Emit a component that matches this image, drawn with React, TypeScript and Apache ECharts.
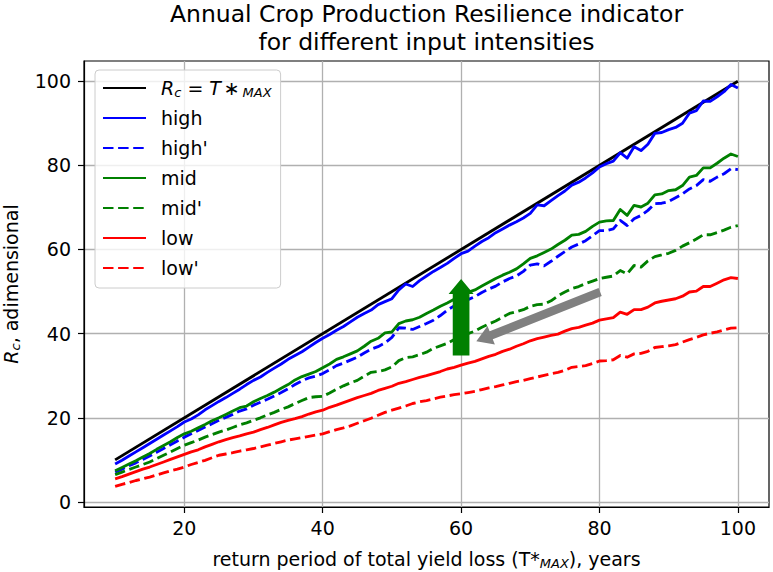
import React, { useEffect, useRef } from "react";
import * as echarts from "echarts";

const FONT = "DejaVu Sans";

const years = [
  10, 11, 12, 13, 14, 15, 16, 17, 18, 19,
  20, 21, 22, 23, 24, 25, 26, 27, 28, 29,
  30, 31, 32, 33, 34, 35, 36, 37, 38, 39,
  40, 41, 42, 43, 44, 45, 46, 47, 48, 49,
  50, 51, 52, 53, 54, 55, 56, 57, 58, 59,
  60, 61, 62, 63, 64, 65, 66, 67, 68, 69,
  70, 71, 72, 73, 74, 75, 76, 77, 78, 79,
  80, 81, 82, 83, 84, 85, 86, 87, 88, 89,
  90, 91, 92, 93, 94, 95, 96, 97, 98, 99, 100,
];

const refYears = [10, 100];
const refValues = [10, 100];

const high = [
  9.0, 9.9, 10.9, 11.9, 12.9, 13.9, 14.9, 15.9, 16.9, 17.9,
  19.0, 19.7, 20.7, 21.9, 22.9, 23.9, 24.8, 25.8, 26.8, 27.9,
  28.9, 29.7, 30.8, 31.8, 32.8, 33.9, 34.8, 35.7, 36.8, 37.9,
  38.9, 39.8, 40.8, 41.7, 42.8, 43.9, 44.8, 45.6, 46.9, 47.6,
  48.3, 50.4, 51.8, 51.2, 52.6, 53.7, 54.8, 55.7, 56.7, 57.9,
  59.0, 59.6, 60.8, 61.9, 62.8, 64.0, 64.9, 65.8, 66.6, 67.5,
  68.6, 70.6, 70.4, 71.6, 72.8, 73.9, 75.3, 76.0, 77.0, 78.2,
  79.6, 80.4, 81.0, 83.0, 81.7, 84.4, 83.5, 85.0, 87.6, 87.8,
  88.5, 89.0, 90.0, 92.4, 93.0, 95.3, 95.2, 96.3, 97.5, 99.2, 98.4,
];

const highP = [
  7.1, 7.8, 8.6, 9.3, 10.1, 10.9, 11.8, 12.7, 13.6, 14.5,
  15.4, 16.2, 17.0, 17.8, 18.6, 19.4, 20.1, 20.8, 21.6, 22.1,
  23.0, 23.7, 24.4, 25.2, 26.0, 26.9, 27.9, 28.8, 29.5, 29.9,
  30.5, 31.4, 32.4, 33.0, 33.7, 34.4, 35.4, 36.3, 36.9, 37.8,
  39.1, 41.4, 41.3, 41.0, 41.7, 42.4, 43.2, 44.3, 45.6, 46.6,
  47.5, 48.1, 48.8, 49.8, 50.6, 51.3, 52.3, 53.1, 53.7, 54.8,
  56.3, 56.6, 56.1, 57.2, 58.4, 59.5, 60.6, 61.3, 62.1, 63.3,
  64.5, 64.5, 64.9, 66.9, 65.7, 67.3, 68.1, 69.3, 70.9, 71.0,
  71.4, 72.3, 73.2, 74.4, 75.2, 76.6, 76.2, 77.2, 78.0, 79.2, 79.0,
];

const mid = [
  7.4, 8.2, 9.0, 9.8, 10.7, 11.5, 12.5, 13.4, 14.3, 15.3,
  16.2, 16.8, 17.6, 18.4, 19.3, 20.0, 20.8, 21.6, 22.4, 22.8,
  23.8, 24.6, 25.3, 26.1, 27.0, 27.9, 29.0, 29.8, 30.4, 31.0,
  31.9, 32.8, 33.9, 34.5, 35.2, 35.9, 37.0, 38.2, 38.9, 40.2,
  40.4, 42.4, 43.0, 43.3, 43.9, 44.8, 45.6, 46.5, 47.3, 48.2,
  49.1, 49.8, 50.4, 51.3, 52.2, 53.1, 53.9, 54.6, 55.4, 56.6,
  57.9, 58.5, 59.3, 60.1, 61.2, 62.2, 63.4, 63.6, 64.3, 65.5,
  66.5, 66.8, 66.9, 69.5, 68.1, 70.5, 70.1, 71.0, 73.0, 73.2,
  74.0, 74.2, 75.2, 77.2, 77.6, 79.4, 79.4, 80.5, 81.7, 82.7, 82.1,
];

const midP = [
  6.5, 7.1, 7.7, 8.3, 8.9, 9.5, 10.3, 11.1, 11.9, 12.7,
  13.5, 14.1, 14.7, 15.4, 16.0, 16.6, 17.1, 17.7, 18.3, 18.8,
  19.4, 20.0, 20.7, 21.3, 22.0, 22.6, 23.4, 24.1, 24.8, 25.0,
  25.1, 25.9, 26.8, 27.6, 28.3, 28.9, 29.9, 30.8, 31.0, 31.4,
  32.1, 33.6, 34.3, 34.5, 35.0, 35.6, 36.5, 37.1, 37.7, 38.6,
  39.6, 40.0, 40.6, 41.5, 42.3, 43.0, 43.9, 44.8, 45.2, 45.7,
  46.5, 46.9, 47.0, 47.8, 49.0, 49.9, 50.7, 51.2, 51.9, 52.5,
  53.1, 53.4, 53.7, 55.0, 54.2, 56.2, 55.8, 57.3, 58.3, 58.7,
  59.1, 59.8, 60.8, 61.6, 62.5, 63.5, 63.5, 64.0, 64.6, 65.3, 65.7,
];

const low = [
  5.5, 6.0, 6.6, 7.2, 7.8, 8.3, 8.9, 9.5, 10.1, 10.7,
  11.3, 11.9, 12.4, 13.1, 13.7, 14.3, 14.8, 15.3, 15.7, 16.2,
  16.6, 17.2, 17.7, 18.3, 18.9, 19.4, 19.8, 20.3, 20.9, 21.4,
  21.8, 22.5, 23.0, 23.6, 24.2, 24.8, 25.3, 25.8, 26.5, 27.0,
  27.5, 28.2, 28.6, 29.1, 29.6, 30.0, 30.5, 31.0, 31.6, 32.0,
  32.5, 33.0, 33.4, 34.0, 34.6, 35.1, 35.8, 36.3, 37.0, 37.6,
  38.3, 38.8, 39.2, 39.6, 39.9, 40.6, 41.2, 41.5, 42.0, 42.5,
  43.2, 43.5, 43.8, 45.1, 44.6, 45.7, 45.7, 46.3, 47.3, 47.7,
  48.0, 48.3, 48.9, 49.9, 50.1, 51.2, 51.2, 52.0, 52.8, 53.3, 53.1,
];

const lowP = [
  3.7, 4.2, 4.6, 5.1, 5.5, 5.9, 6.4, 6.9, 7.4, 7.8,
  8.3, 8.9, 9.4, 9.9, 10.5, 11.1, 11.4, 11.7, 12.1, 12.4,
  12.7, 13.1, 13.5, 13.9, 14.3, 14.7, 15.0, 15.3, 15.6, 15.9,
  16.2, 16.7, 17.2, 17.6, 18.1, 18.7, 19.3, 19.9, 20.6, 21.3,
  21.8, 22.3, 22.8, 23.4, 23.8, 24.1, 24.5, 24.9, 25.2, 25.5,
  25.7, 26.0, 26.3, 26.7, 27.1, 27.4, 27.8, 28.2, 28.6, 28.9,
  29.3, 29.7, 30.1, 30.5, 30.8, 31.3, 32.0, 32.2, 32.4, 32.9,
  33.5, 33.6, 33.8, 34.8, 34.4, 35.2, 35.3, 35.8, 36.7, 36.9,
  37.1, 37.4, 38.0, 38.6, 39.1, 39.7, 40.1, 40.4, 40.9, 41.3, 41.4,
];

const xTicks = [20, 40, 60, 80, 100];
const yTicks = [0, 20, 40, 60, 80, 100];

// arrows: [xStart, yStart, xEnd, yEnd] in data units
const greenArrow = [60, 34.8, 60, 53.0];
const grayArrow = [80.1, 49.9, 62.2, 38.2];

const seriesNames = ["Rc", "high", "high'", "mid", "mid'", "low", "low'"];

export default function App() {
  const ref = useRef<HTMLDivElement>(null);

  useEffect(() => {
    const chart = echarts.init(ref.current!, null, { renderer: "svg" });
    const pairs = (xs: number[], ys: number[]) => xs.map((x, i) => [x, ys[i]]);

    const LW = 2.85;
    const DASH = [10.5, 4.6];
    const mk = (name: string, xs: number[], ys: number[], color: string, dashed: boolean) => ({
      type: "line",
      name,
      data: pairs(xs, ys),
      symbol: "none",
      showSymbol: false,
      clip: false,
      lineStyle: {
        color,
        width: LW,
        type: dashed ? DASH : "solid",
        join: "round",
        cap: "butt",
      },
      itemStyle: { color },
      emphasis: { disabled: true },
    });

    const arrowShapes = [
      { shaft: 16.7, headW: 25, headL: 15, color: "#008000" },
      { shaft: 8.5, headW: 20, headL: 16, color: "#808080" },
    ];

    const rich = {
      i: { fontFamily: FONT, fontStyle: "italic", fontSize: 19, lineHeight: 22, color: "#000" },
      n: { fontFamily: FONT, fontSize: 19, lineHeight: 22, color: "#000" },
      sp: { fontFamily: FONT, fontSize: 9, lineHeight: 22, color: "#000" },
      sub: { fontFamily: FONT, fontStyle: "italic", fontSize: 13, lineHeight: 10, verticalAlign: "bottom", color: "#000" },
    };

    const option: any = {
      animation: false,
      backgroundColor: "#ffffff",
      title: {
        text: "Annual Crop Production Resilience indicator\nfor different input intensities",
        left: 426.5,
        top: 0,
        padding: 0,
        textAlign: "center",
        textStyle: {
          fontFamily: FONT,
          fontSize: 23.5,
          fontWeight: "normal",
          lineHeight: 28,
          color: "#000",
        },
      },
      grid: {
        left: 84,
        top: 61,
        width: 685,
        height: 446,
        show: true,
        borderColor: "#000",
        borderWidth: 1.2,
        backgroundColor: "transparent",
        containLabel: false,
        outerBoundsMode: "none",
      },
      legend: {
        data: seriesNames,
        orient: "vertical",
        left: 95,
        top: 70,
        padding: [7, 9, 9, 7],
        itemWidth: 43,
        itemHeight: 14,
        itemGap: 8,
        backgroundColor: "rgba(255,255,255,0.8)",
        borderColor: "#cccccc",
        borderWidth: 1,
        borderRadius: 4,
        selectedMode: false,
        itemStyle: { opacity: 0, borderWidth: 0 },
        formatter: (name: string) =>
          name === "Rc" ? "{i|R}{sub|c}{n| = }{i|T}{sp| }{n|∗}{sp| }{sub|MAX}" : name,
        textStyle: {
          fontFamily: FONT,
          fontSize: 19,
          lineHeight: 22,
          color: "#000",
          padding: [0, 0, 0, 10],
          rich,
        },
      },
      xAxis: {
        type: "value",
        min: 5.5,
        max: 104.5,
        name: "{n|return period of total yield loss (T*}{sub|MAX}{n|), years}",
        nameLocation: "middle",
        nameGap: 41,
        nameTextStyle: { fontFamily: FONT, fontSize: 19, color: "#000", rich },
        axisLine: { show: true, onZero: false, lineStyle: { color: "#000", width: 1.2 } },
        axisTick: {
          show: true,
          length: 6,
          customValues: xTicks,
          lineStyle: { color: "#000", width: 1.2 },
        },
        axisLabel: {
          customValues: xTicks,
          fontFamily: FONT,
          fontSize: 19,
          color: "#000",
          margin: 11,
        },
        splitLine: { show: true, lineStyle: { color: "#b0b0b0", width: 1.3 } },
      },
      yAxis: {
        type: "value",
        min: -1.2,
        max: 104.8,
        name: "{i|R}{sub|c}{n|, adimensional}",
        nameLocation: "middle",
        nameRotate: 90,
        nameGap: 62,
        nameTextStyle: { fontFamily: FONT, fontSize: 19, color: "#000", rich },
        axisLine: { show: true, onZero: false, lineStyle: { color: "#000", width: 1.2 } },
        axisTick: {
          show: true,
          length: 6,
          customValues: yTicks,
          lineStyle: { color: "#000", width: 1.2 },
        },
        axisLabel: {
          customValues: yTicks,
          fontFamily: FONT,
          fontSize: 19,
          color: "#000",
          margin: 13,
        },
        splitLine: { show: true, lineStyle: { color: "#b0b0b0", width: 1.3 } },
      },
      series: [
        mk("Rc", refYears, refValues, "#000000", false),
        mk("high", years, high, "#0000ff", false),
        mk("high'", years, highP, "#0000ff", true),
        mk("mid", years, mid, "#008000", false),
        mk("mid'", years, midP, "#008000", true),
        mk("low", years, low, "#ff0000", false),
        mk("low'", years, lowP, "#ff0000", true),
        {
          type: "custom",
          name: "arrows",
          data: [greenArrow, grayArrow],
          encode: { x: [0, 2], y: [1, 3] },
          z: 5,
          silent: true,
          clip: false,
          renderItem: (params: any, api: any) => {
            const s = arrowShapes[params.dataIndex];
            const p0 = api.coord([api.value(0), api.value(1)]);
            const p1 = api.coord([api.value(2), api.value(3)]);
            const dx = p1[0] - p0[0];
            const dy = p1[1] - p0[1];
            const L = Math.hypot(dx, dy);
            const ux = dx / L;
            const uy = dy / L;
            const nx = -uy;
            const ny = ux;
            const bx = p1[0] - ux * s.headL;
            const by = p1[1] - uy * s.headL;
            const hw = s.shaft / 2;
            const hh = s.headW / 2;
            const pts = [
              [p0[0] + nx * hw, p0[1] + ny * hw],
              [bx + nx * hw, by + ny * hw],
              [bx + nx * hh, by + ny * hh],
              [p1[0], p1[1]],
              [bx - nx * hh, by - ny * hh],
              [bx - nx * hw, by - ny * hw],
              [p0[0] - nx * hw, p0[1] - ny * hw],
            ];
            return { type: "polygon", shape: { points: pts }, style: { fill: s.color } };
          },
        },
      ],
    };

    chart.setOption(option);
    return () => chart.dispose();
  }, []);

  return (
    <div
      ref={ref}
      style={{ position: "fixed", left: 0, top: 0, width: 773, height: 572, background: "#fff" }}
    />
  );
}
